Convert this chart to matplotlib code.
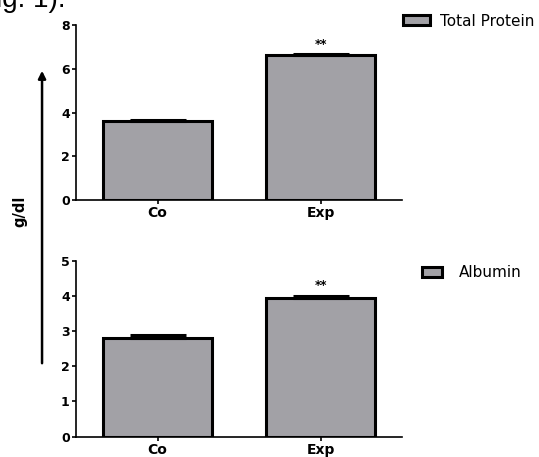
import matplotlib.pyplot as plt

plt.rcParams['font.family'] = ['DejaVu Sans']

groups = ['Co', 'Exp']
protein = [3.6, 6.62]
protein_err = [0.08, 0.06]
albumin = [2.8, 3.95]
albumin_err = [0.1, 0.05]
stars = ['', '**']

bar_col = '#a2a1a6'

fig = plt.figure(figsize=(5.39, 4.57), dpi=100)
ax1 = fig.add_axes([0.141, 0.562, 0.605, 0.383])
ax2 = fig.add_axes([0.141, 0.0445, 0.605, 0.385])


def panel(ax, vals, errs, ymax, label, yticks):
    x = range(len(groups))
    bars = ax.bar(x, vals, width=0.67, color=bar_col, edgecolor='black',
                  linewidth=2.2, label=label, zorder=2)
    ax.errorbar(x, vals, yerr=[[0] * len(errs), errs], fmt='none',
                ecolor='black', elinewidth=2, capsize=20, capthick=2.2, zorder=3)
    for i, s in enumerate(stars):
        if s:
            ax.text(i, vals[i] + errs[i] + ymax * 0.02, s, ha='center',
                    va='bottom', fontsize=8.5, fontweight='bold')
    ax.set_xlim(-0.5, 1.5)
    ax.set_ylim(0, ymax)
    ax.set_xticks(list(x))
    ax.set_xticklabels(groups, fontsize=10, fontweight='bold')
    ax.set_yticks(yticks)
    ax.set_yticklabels([str(v) for v in yticks], fontsize=9, fontweight='bold')
    ax.spines['top'].set_visible(False)
    ax.spines['right'].set_visible(False)
    ax.spines['left'].set_linewidth(1.2)
    ax.spines['bottom'].set_linewidth(1.2)
    ax.tick_params(width=1.2, length=3, pad=1.5)
    return bars


panel(ax1, protein, protein_err, 8, 'Total Protein', [0, 2, 4, 6, 8])
panel(ax2, albumin, albumin_err, 5, 'Albumin', [0, 1, 2, 3, 4, 5])

ax1.legend(loc='center left', bbox_to_anchor=(0.748, 0.954),
           bbox_transform=fig.transFigure, frameon=False, fontsize=11,
           borderpad=0, borderaxespad=0, handlelength=1.75,
           handleheight=0.6, handletextpad=0.65)
ax2.legend(loc='center left', bbox_to_anchor=(0.783, 0.403),
           bbox_transform=fig.transFigure, frameon=False, fontsize=11,
           borderpad=0, borderaxespad=0, handlelength=1.3,
           handleheight=0.6, handletextpad=1.1)

# arrow and shared y label
ax1.annotate('', xy=(0.078, 1 - 68 / 457), xytext=(0.078, 1 - 366 / 457),
             xycoords='figure fraction',
             arrowprops=dict(arrowstyle='-|>', color='black', lw=1.8,
                             mutation_scale=11))
fig.text(0.037, 0.538, 'g/dl', rotation=90, ha='center', va='center',
         fontsize=10.5, fontweight='bold')

# cropped caption text at the top edge
fig.text(-0.008, 0.985, 'ig. 1).', fontsize=20, va='baseline', ha='left',
         family='Liberation Sans')

fig.savefig('out.png', dpi=100)
